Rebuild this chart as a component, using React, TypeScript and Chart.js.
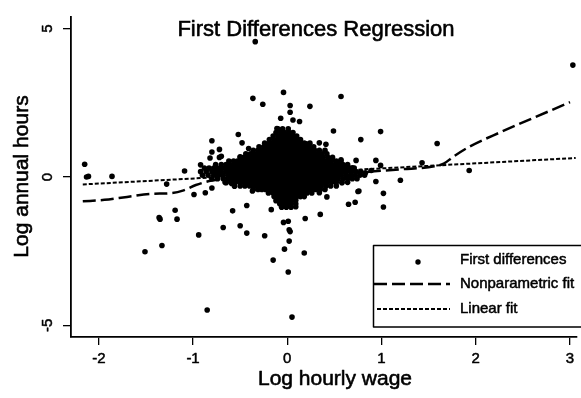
import React, { useEffect, useRef } from "react";
import { Chart, registerables } from "chart.js";

Chart.register(...registerables);

const chartTitle = "First Differences Regression";
const xAxisTitle = "Log hourly wage";
const yAxisTitle = "Log annual hours";
const xTickValues = [-2, -1, 0, 1, 2, 3];
const yTickValues = [-5, 0, 5];
const legendLabels = ["First differences", "Nonparametric fit", "Linear fit"];

// scattered first differences (log hourly wage, log annual hours)
const outlierPoints: [number, number][] = [
  [-0.34, 4.56], [-0.04, 2.85], [-0.365, 2.65], [-0.26, 2.45], [0.03, 2.41], [0.03, 2.18],
  [0.24, 2.38], [0.57, 2.71], [-0.07, 1.98], [0.06, 1.92], [0.13, 1.87], [-0.11, 1.63],
  [-0.52, 1.43], [0.49, 1.55], [0.78, 1.26], [-0.8, 1.22], [0.99, 1.53], [-0.48, 1.15],
  [-0.72, 0.93], [-0.8, 0.84], [-0.41, 0.96], [-0.82, 0.64], [-0.72, 0.66], [-0.5, 0.68],
  [-1.09, 0.2], [-0.92, 0.41], [-1.28, -0.24], [0.57, 0.58], [0.73, 0.56], [0.94, 0.56],
  [0.99, 0.39], [0.94, -0.15], [1.02, -0.55], [1.02, -1.01], [0.75, -0.49], [0.72, -0.85],
  [0.65, -0.92], [0.42, -0.67], [0.35, -1.26], [0.19, -1.4], [0.01, -1.49], [-0.04, -1.53],
  [0.03, -1.84], [0.02, -1.78], [0.02, -2.16], [-0.03, -2.43], [0.18, -2.56], [-0.15, -2.8],
  [-0.17, -1.1], [-0.43, -0.96], [-0.58, -1.14], [-0.5, -1.64], [-0.43, -1.89], [-0.24, -1.98],
  [-0.68, -1.7], [-0.94, -1.95], [-1.33, -2.31], [-1.51, -2.52], [-1.19, -1.12], [-1.17, -1.42],
  [-1.36, -1.37], [-1.35, -1.42], [-0.99, -0.59], [-0.87, -0.53], [-0.8, -0.37], [-0.59, -0.22],
  [-0.56, -0.31], [0.01, -3.2], [-0.85, -4.48], [0.05, -4.72], [-2.15, 0.43], [-2.13, 0.0],
  [-2.11, 0.02], [-1.86, 0.02], [1.59, 1.13], [1.43, 0.48], [0.89, 0.22], [1.2, -0.11],
  [1.93, 0.22], [3.03, 3.77], [-0.19, 1.07], [0.2, 1.12], [0.34, 1.15], [0.41, 1.1],
  [-0.4, 0.74], [-0.65, -0.19], [-0.37, -0.47], [-0.12, -0.8], [0.09, -1.0], [0.34, -0.53],
  [0.58, -0.19], [0.76, -0.47], [0.83, 0.14], [0.69, 0.31], [-0.7, 0.7]
];

// dense central cloud, read row by row (hours value of each row, wage values in it)
const clusterRowHours = [1.62, 1.5, 1.38, 1.26, 1.14, 1.02, 0.9, 0.78, 0.66, 0.54, 0.42, 0.3, 0.18, 0.06, -0.06, -0.18, -0.3, -0.42, -0.54, -0.66, -0.78, -0.9, -1.02];
const clusterRowWages: number[][] = [
  [-0.1, -0.05, 0.01],
  [-0.12, -0.07, -0.03, 0.02, 0.06],
  [-0.15, -0.1, -0.06, -0.02, 0.02, 0.06, 0.1],
  [-0.19, -0.14, -0.1, -0.06, -0.02, 0.02, 0.06, 0.1, 0.14],
  [-0.24, -0.19, -0.15, -0.11, -0.07, -0.03, 0.01, 0.05, 0.09, 0.13, 0.18, 0.24],
  [-0.3, -0.25, -0.21, -0.17, -0.13, -0.09, -0.05, -0.01, 0.03, 0.07, 0.11, 0.15, 0.19, 0.23, 0.28],
  [-0.36, -0.31, -0.27, -0.23, -0.19, -0.15, -0.11, -0.07, -0.03, 0.01, 0.05, 0.09, 0.13, 0.17, 0.21, 0.25, 0.29, 0.34, 0.4],
  [-0.44, -0.39, -0.35, -0.31, -0.27, -0.23, -0.19, -0.15, -0.11, -0.07, -0.03, 0.01, 0.05, 0.09, 0.13, 0.17, 0.21, 0.25, 0.29, 0.33, 0.37, 0.42],
  [-0.5, -0.46, -0.42, -0.38, -0.34, -0.3, -0.26, -0.22, -0.18, -0.14, -0.1, -0.06, -0.02, 0.02, 0.06, 0.1, 0.14, 0.18, 0.22, 0.26, 0.3, 0.34, 0.38, 0.43, 0.48],
  [-0.62, -0.57, -0.53, -0.49, -0.45, -0.41, -0.37, -0.33, -0.29, -0.25, -0.21, -0.17, -0.13, -0.09, -0.05, -0.01, 0.03, 0.07, 0.11, 0.15, 0.19, 0.23, 0.27, 0.31, 0.35, 0.39, 0.43, 0.47, 0.52, 0.57],
  [-0.76, -0.7, -0.65, -0.61, -0.57, -0.53, -0.49, -0.45, -0.41, -0.37, -0.33, -0.29, -0.25, -0.21, -0.17, -0.13, -0.09, -0.05, -0.01, 0.03, 0.07, 0.11, 0.15, 0.19, 0.23, 0.27, 0.31, 0.35, 0.39, 0.43, 0.47, 0.51, 0.55, 0.59, 0.64],
  [-0.88, -0.83, -0.78, -0.74, -0.7, -0.66, -0.62, -0.58, -0.54, -0.5, -0.46, -0.42, -0.38, -0.34, -0.3, -0.26, -0.22, -0.18, -0.14, -0.1, -0.06, -0.02, 0.02, 0.06, 0.1, 0.14, 0.18, 0.22, 0.26, 0.3, 0.34, 0.38, 0.42, 0.46, 0.5, 0.54, 0.58, 0.62, 0.66, 0.71],
  [-0.92, -0.86, -0.8, -0.75, -0.7, -0.65, -0.61, -0.57, -0.53, -0.49, -0.45, -0.41, -0.37, -0.33, -0.29, -0.25, -0.21, -0.17, -0.13, -0.09, -0.05, -0.01, 0.03, 0.07, 0.11, 0.15, 0.19, 0.23, 0.27, 0.31, 0.35, 0.39, 0.43, 0.47, 0.51, 0.55, 0.59, 0.63, 0.68, 0.73, 0.78],
  [-0.9, -0.84, -0.78, -0.73, -0.68, -0.63, -0.59, -0.55, -0.51, -0.47, -0.43, -0.39, -0.35, -0.31, -0.27, -0.23, -0.19, -0.15, -0.11, -0.07, -0.03, 0.01, 0.05, 0.09, 0.13, 0.17, 0.21, 0.25, 0.29, 0.33, 0.37, 0.41, 0.45, 0.49, 0.53, 0.57, 0.62, 0.67, 0.72, 0.77, 0.82],
  [-0.8, -0.74, -0.68, -0.63, -0.58, -0.54, -0.5, -0.46, -0.42, -0.38, -0.34, -0.3, -0.26, -0.22, -0.18, -0.14, -0.1, -0.06, -0.02, 0.02, 0.06, 0.1, 0.14, 0.18, 0.22, 0.26, 0.3, 0.34, 0.38, 0.42, 0.46, 0.5, 0.54, 0.59, 0.64, 0.69, 0.74],
  [-0.66, -0.6, -0.55, -0.5, -0.46, -0.42, -0.38, -0.34, -0.3, -0.26, -0.22, -0.18, -0.14, -0.1, -0.06, -0.02, 0.02, 0.06, 0.1, 0.14, 0.18, 0.22, 0.26, 0.3, 0.34, 0.38, 0.42, 0.47, 0.52, 0.58, 0.64],
  [-0.5, -0.45, -0.4, -0.36, -0.32, -0.28, -0.24, -0.2, -0.16, -0.12, -0.08, -0.04, 0.0, 0.04, 0.08, 0.12, 0.16, 0.2, 0.24, 0.28, 0.32, 0.36, 0.41, 0.46, 0.52],
  [-0.36, -0.31, -0.27, -0.23, -0.19, -0.15, -0.11, -0.07, -0.03, 0.01, 0.05, 0.09, 0.13, 0.17, 0.21, 0.25, 0.3, 0.35, 0.4],
  [-0.2, -0.15, -0.11, -0.07, -0.03, 0.01, 0.05, 0.09, 0.13, 0.17, 0.21, 0.26],
  [-0.14, -0.1, -0.06, -0.02, 0.02, 0.06, 0.1, 0.14, 0.18],
  [-0.11, -0.07, -0.03, 0.01, 0.05, 0.09],
  [-0.08, -0.04, 0.0, 0.04, 0.09],
  [-0.06, -0.01, 0.04]
];

const nonparamWage = [-2.17, -1.94, -1.7, -1.45, -1.22, -1.1, -0.97, -0.8, -0.5, -0.2, 0, 0.3, 0.6, 0.86, 1.21, 1.56, 1.66, 1.76, 1.92, 2.27, 3.0];
const nonparamHours = [-0.82, -0.77, -0.67, -0.57, -0.54, -0.45, -0.27, -0.12, 0.02, 0.08, 0.1, 0.12, 0.15, 0.18, 0.26, 0.36, 0.45, 0.68, 1.0, 1.52, 2.52];

const linearWage = [-2.17, 3.06];
const linearHours = [-0.25, 0.64];

const FONT = '"Liberation Sans", Arial, Helvetica, sans-serif';

export default function App() {
  const canvasRef = useRef<HTMLCanvasElement | null>(null);

  useEffect(() => {
    document.body.style.margin = "0";
    const canvas = canvasRef.current;
    if (!canvas) return;

    const scatterData: { x: number; y: number }[] = outlierPoints.map(([x, y]) => ({ x, y }));
    clusterRowHours.forEach((h, i) => {
      clusterRowWages[i].forEach((w) => scatterData.push({ x: w, y: h }));
    });
    const npData = nonparamWage.map((x, i) => ({ x, y: nonparamHours[i] }));
    const linData = linearWage.map((x, i) => ({ x, y: linearHours[i] }));

    const heavyText = (ctx: CanvasRenderingContext2D, t: string, x: number, y: number, w: number) => {
      ctx.lineWidth = w;
      ctx.setLineDash([]);
      ctx.strokeText(t, x, y);
      ctx.fillText(t, x, y);
    };

    const textPlugin = {
      id: "textPlugin",
      afterDraw(chart: any) {
        const ctx = chart.ctx as CanvasRenderingContext2D;
        const xs = chart.scales.x;
        const ys = chart.scales.y;
        ctx.save();
        ctx.fillStyle = "#000";
        ctx.strokeStyle = "#000";
        ctx.lineJoin = "round";

        // title
        ctx.font = `22px ${FONT}`;
        ctx.textAlign = "center";
        ctx.textBaseline = "alphabetic";
        heavyText(ctx, chartTitle, 316, 36, 0.6);

        // x axis title
        ctx.font = `21px ${FONT}`;
        heavyText(ctx, xAxisTitle, 335, 385, 0.6);

        // y axis title
        ctx.save();
        ctx.translate(28, 176.5);
        ctx.rotate(-Math.PI / 2);
        heavyText(ctx, yAxisTitle, 0, 0, 0.6);
        ctx.restore();

        // x tick labels
        ctx.font = `15px ${FONT}`;
        ctx.textBaseline = "middle";
        xTickValues.forEach((v) => {
          heavyText(ctx, String(v), xs.getPixelForValue(v), 359, 0.5);
        });

        // y tick labels (rotated)
        yTickValues.forEach((v) => {
          ctx.save();
          ctx.translate(48, ys.getPixelForValue(v));
          ctx.rotate(-Math.PI / 2);
          heavyText(ctx, String(v), 0, 0, 0.5);
          ctx.restore();
        });

        // legend
        ctx.fillStyle = "#fff";
        ctx.fillRect(373, 245, 210, 82);
        ctx.lineWidth = 1.5;
        ctx.strokeRect(373.5, 245.5, 210, 81.5);
        ctx.fillStyle = "#000";
        ctx.beginPath();
        ctx.arc(418, 262, 2.7, 0, Math.PI * 2);
        ctx.fill();
        ctx.lineWidth = 2.5;
        ctx.setLineDash([13, 5]);
        ctx.beginPath();
        ctx.moveTo(374, 284);
        ctx.lineTo(450, 284);
        ctx.stroke();
        ctx.lineWidth = 2;
        ctx.setLineDash([4, 2]);
        ctx.beginPath();
        ctx.moveTo(377, 309);
        ctx.lineTo(450, 309);
        ctx.stroke();
        ctx.setLineDash([]);
        ctx.font = `15px ${FONT}`;
        ctx.textAlign = "left";
        ctx.textBaseline = "middle";
        heavyText(ctx, legendLabels[0], 460, 260, 0.5);
        heavyText(ctx, legendLabels[1], 460, 283.5, 0.5);
        heavyText(ctx, legendLabels[2], 460, 308.5, 0.5);
        ctx.restore();
      },
    };

    const axisCommon = {
      type: "linear" as const,
      ticks: { display: false },
      grid: {
        display: true,
        drawOnChartArea: false,
        drawTicks: true,
        tickLength: 8,
        color: "#000",
        lineWidth: 1.3,
      },
      border: { display: true, color: "#000", width: 1.8 },
    };

    const chart = new Chart(canvas, {
      type: "scatter",
      data: {
        datasets: [
          {
            label: legendLabels[0],
            data: scatterData,
            pointRadius: 2.8,
            pointBackgroundColor: "#000",
            pointBorderWidth: 0,
            showLine: false,
          },
          {
            label: legendLabels[1],
            data: npData,
            showLine: true,
            borderColor: "#000",
            borderWidth: 2.5,
            borderDash: [13, 5],
            pointRadius: 0,
            fill: false,
            cubicInterpolationMode: "monotone",
          },
          {
            label: legendLabels[2],
            data: linData,
            showLine: true,
            borderColor: "#000",
            borderWidth: 2,
            borderDash: [4, 2],
            pointRadius: 0,
            fill: false,
          },
        ],
      },
      options: {
        responsive: false,
        animation: false,
        events: [],
        layout: { padding: { left: 63, right: 0, top: 17, bottom: 53 } },
        plugins: {
          legend: { display: false },
          tooltip: { enabled: false },
          title: { display: false },
        },
        scales: {
          x: {
            ...axisCommon,
            min: -2.295,
            max: 3.074,
            afterBuildTicks: (s: any) => {
              s.ticks = xTickValues.map((v) => ({ value: v }));
            },
          },
          y: {
            ...axisCommon,
            min: -5.39,
            max: 5.39,
            afterBuildTicks: (s: any) => {
              s.ticks = yTickValues.map((v) => ({ value: v }));
            },
          },
        },
      } as any,
      plugins: [textPlugin],
    });

    return () => chart.destroy();
  }, []);

  return <canvas ref={canvasRef} width={581} height={398} style={{ display: "block" }} />;
}
